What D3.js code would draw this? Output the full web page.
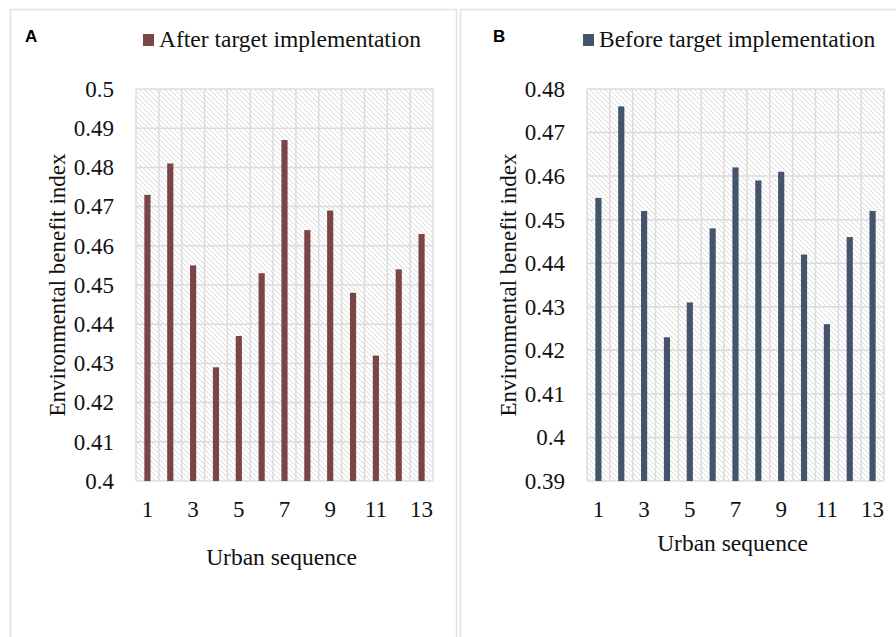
<!DOCTYPE html>
<html>
<head>
<meta charset="utf-8">
<script src="https://cdn.jsdelivr.net/npm/d3@7"></script>
<style>
  body { margin: 0; background: #fff; }
  svg { display: block; }
</style>
</head>
<body>
<div id="chart"></div>
<script>
// urban sequence 1..13
var cities = [1, 2, 3, 4, 5, 6, 7, 8, 9, 10, 11, 12, 13];
var xTickLabels = [1, 3, 5, 7, 9, 11, 13];

// A: after target implementation
var afterValues = [0.473, 0.481, 0.455, 0.429, 0.437, 0.453, 0.487, 0.464, 0.469, 0.448, 0.432, 0.454, 0.463];
var afterTicks = [0.4, 0.41, 0.42, 0.43, 0.44, 0.45, 0.46, 0.47, 0.48, 0.49, 0.5];

// B: before target implementation
var beforeValues = [0.455, 0.476, 0.452, 0.423, 0.431, 0.448, 0.462, 0.459, 0.461, 0.442, 0.426, 0.446, 0.452];
var beforeTicks = [0.39, 0.4, 0.41, 0.42, 0.43, 0.44, 0.45, 0.46, 0.47, 0.48];

var width = 896;
var height = 637;
var serif = '"Liberation Serif", "Times New Roman", serif';
var gridColor = "#dcdcdc";

var svg = d3.select("#chart")
    .append("svg")
    .attr("width", width)
    .attr("height", height);

// diagonal hatch for plot background
var defs = svg.append("defs");
var pat = defs.append("pattern")
    .attr("id", "hatch")
    .attr("patternUnits", "userSpaceOnUse")
    .attr("width", 5)
    .attr("height", 5);
pat.append("path")
    .attr("d", "M0,0 L5,5 M-1,4 L1,6 M4,-1 L6,1")
    .attr("stroke", "#d4d4d4")
    .attr("stroke-width", 0.9);

// panel frames
svg.append("rect")
    .attr("x", 10.5).attr("y", 9.5)
    .attr("width", 446).attr("height", 640)
    .attr("fill", "none").attr("stroke", "#e2e2e2").attr("stroke-width", 1.5);
svg.append("rect")
    .attr("x", 460.5).attr("y", 9.5)
    .attr("width", 460).attr("height", 640)
    .attr("fill", "none").attr("stroke", "#e2e2e2").attr("stroke-width", 1.5);

var panels = [
    { letter: "A", letterX: 25, legend: "After target implementation", legendX: 143,
      values: afterValues, ticks: afterTicks, color: "#7b4545",
      left: 136, right: 433, titleX: 57, xTitleY: 565 },
    { letter: "B", letterX: 493, legend: "Before target implementation", legendX: 583,
      values: beforeValues, ticks: beforeTicks, color: "#44546a",
      left: 587, right: 884, titleX: 508, xTitleY: 551 }
];

var plotTop = 89;
var plotBottom = 481;

function styleTicks(axisG) {
    axisG.select(".domain").remove();
    axisG.selectAll(".tick text")
        .style("font-family", serif)
        .style("font-size", "23px")
        .style("fill", "#111");
}

panels.forEach(function(p) {
    var g = svg.append("g");

    var x = d3.scaleBand()
        .domain(cities)
        .range([p.left, p.right])
        .paddingInner(0)
        .paddingOuter(0);

    var y = d3.scaleLinear()
        .domain([d3.min(p.ticks), d3.max(p.ticks)])
        .range([plotBottom, plotTop]);

    // hatched background
    g.append("rect")
        .attr("x", p.left).attr("y", plotTop)
        .attr("width", p.right - p.left).attr("height", plotBottom - plotTop)
        .attr("fill", "url(#hatch)");

    // horizontal grid
    g.selectAll(".hgrid")
        .data(p.ticks)
        .enter().append("line")
        .attr("x1", p.left).attr("x2", p.right)
        .attr("y1", function(d) { return y(d); })
        .attr("y2", function(d) { return y(d); })
        .attr("stroke", gridColor).attr("stroke-width", 1.5);

    // vertical grid at band edges
    var edges = cities.map(function(c) { return x(c); }).concat([p.right]);
    g.selectAll(".vgrid")
        .data(edges)
        .enter().append("line")
        .attr("x1", function(d) { return d; })
        .attr("x2", function(d) { return d; })
        .attr("y1", plotTop).attr("y2", plotBottom)
        .attr("stroke", gridColor).attr("stroke-width", 1.5);

    // bars
    var bw = x.bandwidth() * 0.27;
    g.selectAll(".bar")
        .data(p.values)
        .enter().append("rect")
        .attr("x", function(d, i) { return x(cities[i]) + (x.bandwidth() - bw) / 2; })
        .attr("y", function(d) { return y(d); })
        .attr("width", bw)
        .attr("height", function(d) { return plotBottom - y(d); })
        .attr("fill", p.color);

    // y axis
    var yAxis = g.append("g")
        .attr("transform", "translate(" + p.left + ",0)")
        .call(d3.axisLeft(y)
            .tickValues(p.ticks)
            .tickSize(0)
            .tickPadding(22)
            .tickFormat(d3.format(".2~f")));
    styleTicks(yAxis);

    // x axis
    var xAxis = g.append("g")
        .attr("transform", "translate(0," + plotBottom + ")")
        .call(d3.axisBottom(x)
            .tickValues(xTickLabels)
            .tickSize(0)
            .tickPadding(20));
    styleTicks(xAxis);

    // axis titles
    g.append("text")
        .attr("x", (p.left + p.right) / 2 - 3)
        .attr("y", p.xTitleY)
        .attr("text-anchor", "middle")
        .style("font-family", serif).style("font-size", "23.5px").style("fill", "#111")
        .text("Urban sequence");

    g.append("text")
        .attr("transform", "translate(" + (p.titleX + 8) + "," + ((plotTop + plotBottom) / 2) + ") rotate(-90)")
        .attr("text-anchor", "middle")
        .style("font-family", serif).style("font-size", "23px").style("fill", "#111")
        .text("Environmental benefit index");

    // panel letter
    g.append("text")
        .attr("x", p.letterX).attr("y", 42)
        .style("font-family", '"Liberation Sans", Arial, sans-serif')
        .style("font-weight", "bold").style("font-size", "17px").style("fill", "#000")
        .text(p.letter);

    // legend
    g.append("rect")
        .attr("x", p.legendX).attr("y", 34)
        .attr("width", 11).attr("height", 12)
        .attr("fill", p.color);
    g.append("text")
        .attr("x", p.legendX + 16).attr("y", 47)
        .style("font-family", serif).style("font-size", "23.5px").style("fill", "#111")
        .text(p.legend);
});
</script>
</body>
</html>
